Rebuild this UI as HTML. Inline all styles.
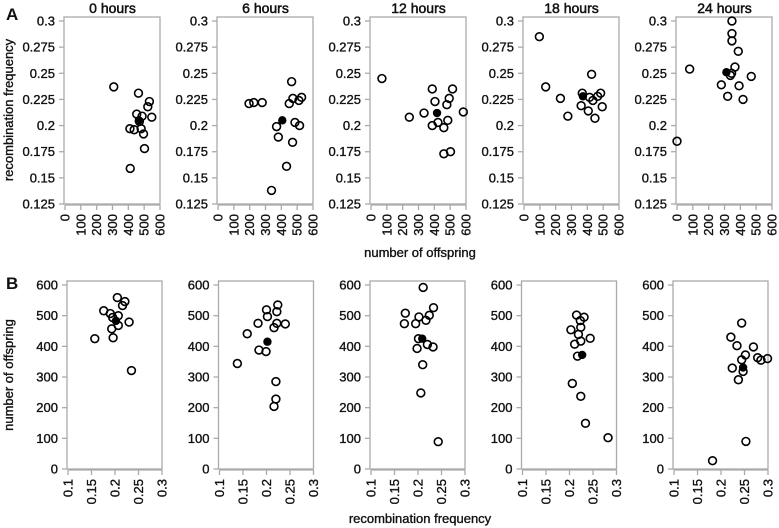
<!DOCTYPE html>
<html><head><meta charset="utf-8"><style>
html,body{margin:0;padding:0;background:#fff;}
svg{display:block;font-family:"Liberation Sans",Arial,sans-serif;}
</style></head><body>
<svg id="chart" width="779" height="528" viewBox="0 0 779 528" xmlns="http://www.w3.org/2000/svg"></svg>
<script>
const hours = ["0 hours","6 hours","12 hours","18 hours","24 hours"];
// Panel A: x = number of offspring, y = recombination frequency
const aOff0 = [308,464,410,437,412,502,533,523,548,453,487,496,481,470];
const aRec0 = [0.237,0.231,0.197,0.196,0.159,0.178,0.223,0.218,0.208,0.211,0.209,0.192,0.197,0.204];
const aOff6 = [196,226,279,465,473,450,511,528,486,515,370,381,471,433,338];
const aRec6 = [0.221,0.222,0.222,0.242,0.226,0.221,0.224,0.227,0.203,0.200,0.199,0.189,0.184,0.161,0.138];
const aOff12 = [69,242,335,387,404,515,494,479,583,485,423,387,460,460,502];
const aRec12 = [0.245,0.208,0.212,0.235,0.223,0.235,0.226,0.220,0.213,0.205,0.203,0.200,0.198,0.173,0.175];
const aOff18 = [97,137,230,277,368,427,484,361,406,448,494,435,465,414];
const aRec18 = [0.285,0.237,0.226,0.209,0.231,0.249,0.231,0.219,0.214,0.207,0.218,0.224,0.228,0.227];
const aOff24 = [0,80,347,347,347,387,366,337,469,280,392,320,417,345];
const aRec24 = [0.185,0.254,0.300,0.288,0.281,0.271,0.256,0.248,0.247,0.239,0.238,0.228,0.225,0.250];
const aMeanOff = [466,406,417,372,312];
const aMeanRec = [0.205,0.205,0.212,0.228,0.251];
// Panel B: x = recombination frequency, y = number of offspring
const bRec0 = [0.157,0.176,0.190,0.195,0.205,0.221,0.216,0.207,0.230,0.193,0.196,0.207,0.235];
const bOff0 = [425,516,507,494,559,546,533,500,479,457,428,468,321];
const bRec6 = [0.138,0.159,0.182,0.184,0.199,0.200,0.202,0.224,0.222,0.222,0.216,0.240,0.220,0.220,0.216];
const bOff6 = [344,441,475,388,383,519,497,535,513,475,461,473,285,228,204];
const bRec12 = [0.211,0.173,0.171,0.195,0.202,0.217,0.224,0.233,0.201,0.198,0.220,0.232,0.210,0.206,0.243];
const bOff12 = [592,508,474,474,496,485,501,526,425,393,406,398,340,248,89];
const bRec18 = [0.215,0.231,0.223,0.224,0.203,0.219,0.224,0.244,0.211,0.217,0.206,0.224,0.234,0.282];
const bOff18 = [502,495,484,462,454,439,417,426,407,368,279,237,149,102];
const bRec24 = [0.182,0.244,0.221,0.234,0.269,0.252,0.244,0.278,0.285,0.299,0.224,0.247,0.237,0.253];
const bOff24 = [27,476,430,402,398,372,356,363,355,360,329,318,291,90];
const bMeanRec = [0.202,0.202,0.209,0.227,0.247];
const bMeanOff = [483,415,425,372,331];
const aXTicks = [0,100,200,300,400,500,600];
const aYTicks = [0.125,0.15,0.175,0.2,0.225,0.25,0.275,0.3];
const aYLabels = ["0.125","0.15","0.175","0.2","0.225","0.25","0.275","0.3"];
const bXTicks = [0.1,0.15,0.2,0.25,0.3];
const bXLabels = ["0.1","0.15","0.2","0.25","0.3"];
const bYTicks = [0,100,200,300,400,500,600];

const NS="http://www.w3.org/2000/svg";
const svg=document.getElementById('chart');
function mk(tag,attrs,parent){const e=document.createElementNS(NS,tag);for(const k in attrs)e.setAttribute(k,attrs[k]);(parent||svg).appendChild(e);return e;}
function txt(s,attrs,parent){const e=mk('text',attrs,parent);e.textContent=s;return e;}
const TS={fill:'#111',stroke:'#111','stroke-width':0.35};

const aXs=[aOff0,aOff6,aOff12,aOff18,aOff24], aYs=[aRec0,aRec6,aRec12,aRec18,aRec24];
const bXs=[bRec0,bRec6,bRec12,bRec18,bRec24], bYs=[bOff0,bOff6,bOff12,bOff18,bOff24];

function panel(i,cfg){
  const g=mk('g',{});
  
  
  const sx=v=>cfg.x0+(v-cfg.xmin)/(cfg.xmax-cfg.xmin)*cfg.w;
  const sy=v=>cfg.yb-(v-cfg.ymin)/(cfg.ymax-cfg.ymin)*cfg.h;
  const box=mk('rect',{x:cfg.x0-1,y:cfg.yb-cfg.h-4,width:cfg.w+1,height:cfg.h+4,fill:'none',stroke:'#aaa','stroke-width':1.3},g);
  
  
  cfg.yt.forEach((t,k)=>{
    const y=sy(t);
    mk('line',{x1:cfg.x0-6,x2:cfg.x0-1,y1:y,y2:y,stroke:'#aaa','stroke-width':1.3},g);
    const l=txt(cfg.yl[k],Object.assign({x:cfg.x0-10,y:y+4.5,'text-anchor':'end','font-size':13},TS),g);
    
    
  });
  const ay=cfg.yb+1;
  mk('line',{x1:sx(cfg.xt[0]),x2:sx(cfg.xt[cfg.xt.length-1]),y1:ay,y2:ay,stroke:'#aaa','stroke-width':1.3},g);
  cfg.xt.forEach((t,k)=>{
    const x=sx(t);
    mk('line',{x1:x,x2:x,y1:ay,y2:ay+5,stroke:'#aaa','stroke-width':1.3},g);
    const l=txt(cfg.xl[k],Object.assign({x:0,y:0,'text-anchor':'end','font-size':13,transform:`translate(${x+4.5},${ay+9}) rotate(-90)`},TS),g);
    
    
  });
  const xs=cfg.xs[i], ys=cfg.ys[i];
  xs.forEach((v,k)=>{
    const c=mk('circle',{cx:sx(v),cy:sy(ys[k]),r:3.9,fill:'none',stroke:'#000','stroke-width':1.6},g);
    
    
  });
  const m=mk('circle',{cx:sx(cfg.mx[i]),cy:sy(cfg.my[i]),r:4.2,fill:'#000'},g);
  
  
  if(cfg.title){
    const t=txt(hours[i],Object.assign({x:cfg.x0+cfg.w/2,y:13,'text-anchor':'middle','font-size':14},TS),g);
    t.setAttribute('stroke-width',0.5);
    
    
  }
}
for(let i=0;i<5;i++){
  panel(i,{name:'a',x0:65+153*i,w:95,yb:204,h:183,xmin:0,xmax:600,ymin:0.125,ymax:0.3,
    xt:aXTicks,xl:aXTicks.map(String),yt:aYTicks,yl:aYLabels,xs:aXs,ys:aYs,mx:aMeanOff,my:aMeanRec,title:true});
  panel(i,{name:'b',x0:68+151.5*i,w:94,yb:469,h:184,xmin:0.1,xmax:0.3,ymin:0,ymax:600,
    xt:bXTicks,xl:bXLabels,yt:bYTicks,yl:bYTicks.map(String),xs:bXs,ys:bYs,mx:bMeanRec,my:bMeanOff,title:false});
}
let e;
e=txt('A',{x:6,y:20,'font-size':17,'font-weight':'bold',fill:'#111'});


e=txt('B',{x:6,y:289,'font-size':17,'font-weight':'bold',fill:'#111'});


e=txt('recombination frequency',Object.assign({x:0,y:0,'text-anchor':'middle','font-size':13,transform:'translate(13,110) rotate(-90)'},TS));


e=txt('number of offspring',Object.assign({x:0,y:0,'text-anchor':'middle','font-size':13,transform:'translate(13,375) rotate(-90)'},TS));


e=txt('number of offspring',Object.assign({x:420,y:257,'text-anchor':'middle','font-size':13},TS));


e=txt('recombination frequency',Object.assign({x:420,y:523,'text-anchor':'middle','font-size':13},TS));


</script>
</body></html>
